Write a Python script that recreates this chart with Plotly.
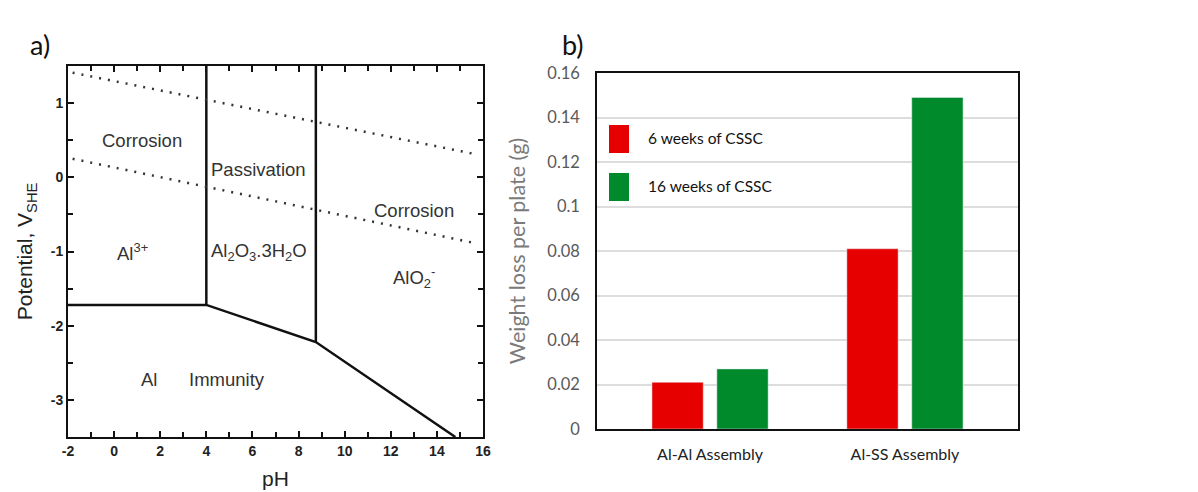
import plotly.graph_objects as go

# ---------------- data: panel a (Pourbaix diagram of Al) ----------------
immunity_ph = [-2, 4, 8.75, 14.8]
immunity_E = [-1.72, -1.72, -2.22, -3.5]
wall1_ph = [4, 4]
wall1_E = [-1.72, 1.5]
wall2_ph = [8.75, 8.75]
wall2_E = [-2.22, 1.5]
o2_ph = [-1.8, 15.7]
o2_E = [1.41, 0.31]
h2_ph = [-1.8, 15.7]
h2_E = [0.25, -0.89]

region_labels = ["Corrosion", "Passivation", "Corrosion", "Al<sup>3+</sup>",
                 "Al<sub>2</sub>O<sub>3</sub>.3H<sub>2</sub>O", "AlO<sub>2</sub><sup>-</sup>",
                 "Al", "Immunity"]
region_ph = [1.2, 6.25, 13.0, 0.8, 6.3, 13.0, 1.5, 4.9]
region_E = [0.5, 0.1, -0.45, -1.0, -1.0, -1.35, -2.73, -2.73]

ph_ticks = [-2, 0, 2, 4, 6, 8, 10, 12, 14, 16]
ph_ticktext = ["-2", "0", "2", "4", "6", "8", "10", "12", "14", "16"]
E_ticks = [-3, -2, -1, 0, 1]
E_ticktext = ["-3", "-2", "-1", "0", "1"]

# ---------------- data: panel b (weight loss) ----------------
categories = ["Al-Al Assembly", "Al-SS Assembly"]
series_names = ["6 weeks of CSSC", "16 weeks of CSSC"]
weeks6 = [0.021, 0.081]
weeks16 = [0.027, 0.149]
wl_ticks = [0, 0.02, 0.04, 0.06, 0.08, 0.1, 0.12, 0.14, 0.16]
wl_ticktext = ["0", "0.02", "0.04", "0.06", "0.08", "0.1", "0.12", "0.14", "0.16"]

RED = "#e60000"
GREEN = "#008a2b"

fig = go.Figure()

line_style = dict(color="#111111", width=2.5)
for xs, ys in [(immunity_ph, immunity_E), (wall1_ph, wall1_E), (wall2_ph, wall2_E)]:
    fig.add_trace(go.Scatter(x=xs, y=ys, mode="lines", line=line_style,
                             xaxis="x", yaxis="y", showlegend=False, hoverinfo="skip"))
for xs, ys in [(o2_ph, o2_E), (h2_ph, h2_E)]:
    fig.add_trace(go.Scatter(x=xs, y=ys, mode="lines",
                             line=dict(color="#333333", width=2.5, dash="2px,7px"),
                             xaxis="x", yaxis="y", showlegend=False, hoverinfo="skip"))

fig.add_trace(go.Bar(x=categories, y=weeks6, name=series_names[0], marker_color=RED,
                     xaxis="x2", yaxis="y2", showlegend=False))
fig.add_trace(go.Bar(x=categories, y=weeks16, name=series_names[1], marker_color=GREEN,
                     xaxis="x2", yaxis="y2", showlegend=False))

annotations = []
for t, xv, yv in zip(region_labels, region_ph, region_E):
    annotations.append(dict(text=t, x=xv, y=yv, xref="x", yref="y", showarrow=False,
                            xanchor="center", yanchor="middle",
                            font=dict(family="Liberation Sans, Arial", size=18.5, color="#333333")))

# panel letters
annotations.append(dict(text="a)", x=40 / 1198, y=1 - 45 / 492, xref="paper", yref="paper",
                        xanchor="center", yanchor="middle",
                        showarrow=False, font=dict(family="Lato", size=27, color="#111111")))
annotations.append(dict(text="b)", x=573 / 1198, y=1 - 45 / 492, xref="paper", yref="paper",
                        xanchor="center", yanchor="middle",
                        showarrow=False, font=dict(family="Lato", size=27, color="#111111")))

# custom legend for panel b
shapes = []
legend_colors = [RED, GREEN]
legend_tops = [125, 173]
for name, col, top in zip(series_names, legend_colors, legend_tops):
    shapes.append(dict(type="rect", xref="paper", yref="paper",
                       x0=609 / 1198, x1=629 / 1198,
                       y0=1 - (top + 28) / 492, y1=1 - top / 492,
                       fillcolor=col, line=dict(width=0)))
    annotations.append(dict(text=name, x=646 / 1198, y=1 - (top + 13) / 492,
                            xref="paper", yref="paper", xanchor="left", yanchor="middle",
                            showarrow=False, font=dict(family="Lato", size=15.5, color="#111111")))

tickfont_a = dict(family="Liberation Sans, Arial", size=14, color="#222222", weight="bold")

fig.update_layout(
    width=1198, height=492,
    margin=dict(l=0, r=0, t=0, b=0),
    paper_bgcolor="white", plot_bgcolor="white",
    barmode="group", bargap=0.334, bargroupgap=0.21,
    annotations=annotations, shapes=shapes,
    xaxis=dict(domain=[68 / 1198, 483 / 1198], range=[-2, 16],
               tickvals=ph_ticks, ticktext=ph_ticktext,
               ticks="inside", ticklen=6, tickwidth=2, tickcolor="#111111",
               minor=dict(dtick=1, ticks="inside", ticklen=5, tickwidth=2, tickcolor="#111111"),
               showline=True, linewidth=2, linecolor="#111111", mirror="allticks",
               showgrid=False, zeroline=False, tickfont=tickfont_a, automargin=False,
               title=dict(text="pH", font=dict(family="Liberation Sans, Arial", size=21, color="#222222"),
                          standoff=14),
               anchor="y"),
    yaxis=dict(domain=[(492 - 437) / 492, (492 - 66) / 492], range=[-3.5, 1.5],
               tickvals=E_ticks, ticktext=E_ticktext,
               ticks="inside", ticklen=6, tickwidth=2, tickcolor="#111111",
               minor=dict(dtick=0.5, ticks="inside", ticklen=5, tickwidth=2, tickcolor="#111111"),
               showline=True, linewidth=2, linecolor="#111111", mirror="allticks",
               showgrid=False, zeroline=False, tickfont=tickfont_a, automargin=False,
               title=dict(text="Potential, V<sub>SHE</sub>",
                          font=dict(family="Liberation Sans, Arial", size=21, color="#222222"),
                          standoff=12),
               anchor="x"),
    xaxis2=dict(domain=[597 / 1198, 1018 / 1198], range=[-0.58, 1.58], type="category",
                showline=True, linewidth=2, linecolor="#111111", mirror=True,
                ticks="", showgrid=False, zeroline=False, automargin=False,
                ticklabelstandoff=10,
                tickfont=dict(family="Lato", size=16, color="#222222"),
                anchor="y2"),
    yaxis2=dict(domain=[(492 - 429) / 492, (492 - 73) / 492], range=[0, 0.16],
                tickvals=wl_ticks, ticktext=wl_ticktext,
                showline=True, linewidth=1.5, linecolor="#111111", mirror=True,
                showgrid=True, gridcolor="#dddddd", gridwidth=2, zeroline=False,
                ticks="", ticklabelstandoff=12, automargin=False,
                tickfont=dict(family="Lato", size=16.5, color="#595959"),
                title=dict(text="Weight loss per plate (g)",
                           font=dict(family="Lato", size=21.5, color="#7a7a7a"), standoff=16),
                anchor="x2"),
)

fig.write_html("out.html")
